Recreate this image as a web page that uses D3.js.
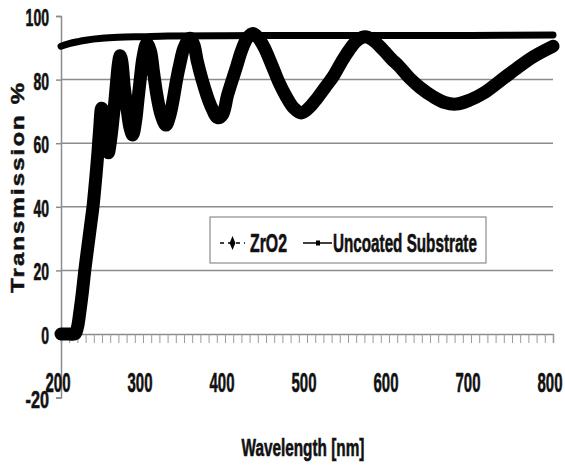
<!DOCTYPE html>
<html>
<head>
<meta charset="utf-8">
<script src="https://cdn.jsdelivr.net/npm/d3@7"></script>
<style>
	body { margin: 0; background: #fff; }
	text { font-family: "Liberation Sans", Arial, sans-serif; font-weight: bold; fill: #111; stroke: #111; stroke-width: 0.6px; }
</style>
</head>
<body>
<svg id="chart" width="565" height="468"></svg>
<script>
// Values
var zrWl  = [200, 210, 217, 220, 223, 226, 229, 233, 236, 239, 242, 245, 247, 249.6, 252, 255, 257.7, 261, 264, 266, 268, 270, 272, 274, 277, 280, 284, 287.4, 291, 294, 297, 300, 304.5, 309, 313, 317, 322, 328, 333, 337, 341, 345, 350, 357, 362, 366, 372, 378, 384, 391, 397, 403, 409, 414, 420, 427, 434, 441, 448, 458, 466, 475, 484, 493, 502, 512, 522, 532, 542, 552, 562, 571, 580, 593, 603, 613, 625, 638, 654, 668, 682, 698, 715, 735, 756, 776, 800];
var zrT   = [0, 0, 0, 2, 7, 13, 20, 28, 34, 40, 48, 57, 64, 71, 69, 61, 57, 62, 69, 74, 80, 85, 87.5, 86, 78, 72, 65, 62.6, 67, 74, 81, 87, 91.4, 89, 82, 75, 69, 65.7, 69, 74, 80, 85, 90, 93, 91, 86, 80, 75, 71, 68, 69, 75, 80, 84, 89, 93, 94.5, 93, 90, 84, 79, 74.5, 71, 69.5, 71, 74, 77.5, 81, 85.5, 89.5, 92.5, 93.5, 92.5, 89.3, 86.5, 84, 80.5, 77.5, 74.6, 72.8, 72.3, 73.5, 75.7, 79.5, 83.6, 87.2, 90.5];
var subWl = [200, 210, 220, 230, 250, 270, 300, 330, 400, 500, 600, 700, 800];
var subT  = [90.5, 91.3, 91.9, 92.4, 93, 93.3, 93.5, 93.7, 93.8, 93.9, 93.9, 93.9, 94];
var xTicks = [200, 300, 400, 500, 600, 700, 800];
var yTicks = [-20, 0, 20, 40, 60, 80, 100];
var yGrid  = [20, 40, 60, 80];
var seriesNames = ["ZrO2", "Uncoated Substrate"];

var svg = d3.select("#chart");

var x = d3.scaleLinear().domain([200, 800]).range([61, 553]);
var y = d3.scaleLinear().domain([-20, 100]).range([397.6, 16]);

	// PURPOSE: squeezed text like the reference (tall, narrow glyphs)
	//			w = wanted width on screen
function label(g, str, px, py, size, w, anchor)
{
	var t = g.append("text")
		.attr("font-size", size)
		.text(str);
	var nat = t.node().getComputedTextLength();
	var k = w / nat;
	var left = px;
	if (anchor === "middle") {
		left = px - w/2;
	} else if (anchor === "end") {
		left = px - w;
	}
	t.attr("transform", "translate(" + left + "," + py + ") scale(" + k + ",1)");
	return t;
} // label()

	// gridlines
svg.append("g").selectAll("line")
	.data(yGrid)
	.enter()
	.append("line")
	.attr("x1", x(200)).attr("x2", x(800))
	.attr("y1", function(d) { return y(d); })
	.attr("y2", function(d) { return y(d); })
	.attr("stroke", "#8c8c8c").attr("stroke-width", 1.5);

	// y axis
var yAxis = d3.axisLeft(y).tickValues(yTicks).tickSize(5).tickFormat("");
var yg = svg.append("g").attr("transform", "translate(" + x(200) + ",0)").call(yAxis);
yg.select(".domain").attr("stroke", "#8c8c8c").attr("stroke-width", 1.5);
yg.selectAll(".tick line").attr("stroke", "#8c8c8c").attr("stroke-width", 1.5);
yTicks.forEach(function(v) {
	label(svg, String(v), 49, y(v) + 10, 24, 7.8 * String(v).length, "end");
});

	// x axis sits on zero, minor ticks every 10 nm
var xAxis = d3.axisBottom(x).ticks(60).tickSize(9).tickFormat("");
var xg = svg.append("g").attr("transform", "translate(0," + y(0) + ")").call(xAxis);
xg.select(".domain").attr("stroke", "#8c8c8c").attr("stroke-width", 1.5);
xg.selectAll(".tick line").attr("stroke", "#9a9a9a").attr("stroke-width", 1);
xTicks.forEach(function(v) {
	label(svg, String(v), x(v) - 3, 392, 28, 25, "middle");
});

	// curves
var line = d3.line()
	.x(function(d) { return x(d[0]); })
	.y(function(d) { return y(d[1]); })
	.curve(d3.curveCatmullRom);

svg.append("path")
	.datum(d3.zip(subWl, subT))
	.attr("d", line)
	.attr("fill", "none").attr("stroke", "#000")
	.attr("stroke-width", 7).attr("stroke-linecap", "round");

svg.append("path")
	.datum(d3.zip(zrWl, zrT))
	.attr("d", line)
	.attr("fill", "none").attr("stroke", "#000")
	.attr("stroke-width", 13).attr("stroke-linecap", "round").attr("stroke-linejoin", "round");

	// axis titles
label(svg, "Wavelength [nm]", 303, 456, 24, 123, "middle");
svg.append("text")
	.attr("transform", "translate(24,188) rotate(-90) scale(1,0.75)")
	.attr("font-size", 24)
	.attr("text-anchor", "middle")
	.attr("textLength", 210)
	.attr("lengthAdjust", "spacing")
	.text("Transmission %");

	// legend
var lg = svg.append("g");
lg.append("rect")
	.attr("x", 210).attr("y", 217).attr("width", 276).attr("height", 46)
	.attr("fill", "#fff").attr("stroke", "#8c8c8c").attr("stroke-width", 1.2);
lg.append("line")
	.attr("x1", 220).attr("x2", 245).attr("y1", 243).attr("y2", 243)
	.attr("stroke", "#000").attr("stroke-width", 1.5).attr("stroke-dasharray", "4,4");
lg.append("path")
	.attr("d", d3.symbol(d3.symbolDiamond, 40)())
	.attr("transform", "translate(232.5,243) scale(0.85,1.2)");
lg.append("line")
	.attr("x1", 303).attr("x2", 332).attr("y1", 243).attr("y2", 243)
	.attr("stroke", "#000").attr("stroke-width", 1.5);
lg.append("rect")
	.attr("x", 316).attr("y", 240.5).attr("width", 4).attr("height", 5);
label(lg, seriesNames[0], 250, 252, 26, 37, "start");
label(lg, seriesNames[1], 333, 252, 26, 144, "start");
</script>
</body>
</html>
